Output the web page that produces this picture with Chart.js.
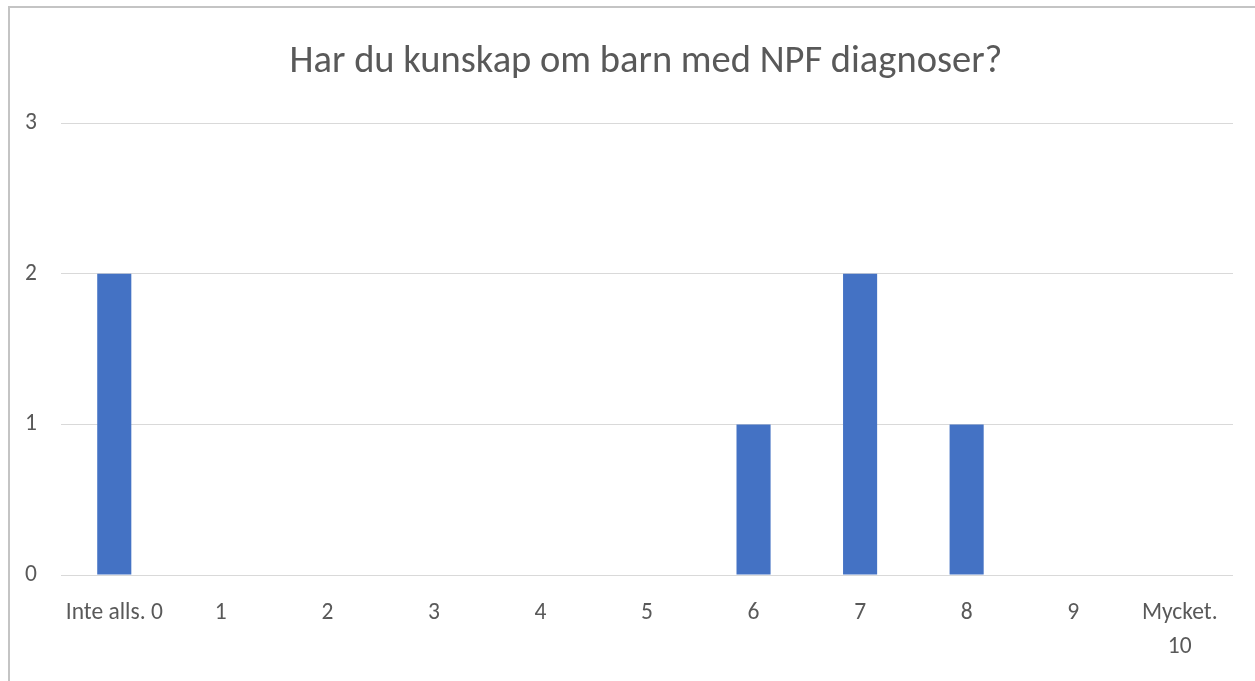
<!DOCTYPE html>
<html>
<head>
<meta charset="utf-8">
<script src="https://cdn.jsdelivr.net/npm/chart.js@4.4.1/dist/chart.umd.min.js"></script>
<style>
  html, body { margin: 0; padding: 0; background: #fff; overflow: hidden; }
  #frame { position: absolute; left: 8px; top: 6px; width: 1300px; height: 720px; border: 2px solid #c4c4c4; box-sizing: border-box; }
  #wrap { position: absolute; left: 0; top: 0; width: 1255px; height: 681px; }
</style>
</head>
<body>
<div id="frame"></div>
<div id="wrap"><canvas id="npfChart"></canvas></div>
<script>
var labels = ['Inte alls. 0', '1', '2', '3', '4', '5', '6', '7', '8', '9', ['Mycket.', '10']];
var counts = [2, 0, 0, 0, 0, 0, 1, 2, 1, 0, 0];
var yTicks = [0, 1, 2, 3];

var fontFam = 'Carlito, Calibri, "Liberation Sans Narrow", "Open Sans", sans-serif';
var textColor = '#595959';

// the original title sits a bit right of the canvas centre
var shiftTitle = {
  id: 'shiftTitle',
  afterLayout: function(chart) {
    if (chart.titleBlock) { chart.titleBlock.left += 59; }
  }
};

var ctx = document.getElementById('npfChart');
var npfChart = new Chart(ctx, {
  type: 'bar',
  data: {
    labels: labels,
    datasets: [{
      label: 'Antal',
      data: counts,
      backgroundColor: '#4472C4',
      borderWidth: 0,
      categoryPercentage: 1,
      barPercentage: 0.32
    }]
  },
  options: {
    responsive: true,
    maintainAspectRatio: false,
    animation: false,
    layout: { padding: { left: 0, right: 22, top: 0, bottom: 0 } },
    plugins: {
      legend: { display: false },
      tooltip: { enabled: false },
      title: {
        display: true,
        text: 'Har du kunskap om barn med NPF diagnoser?',
        color: textColor,
        font: { family: fontFam, size: 38.5, weight: 'normal' },
        padding: { top: 39, bottom: 38 }
      }
    },
    scales: {
      x: {
        grid: { display: false },
        border: { display: false },
        ticks: {
          color: textColor,
          font: { family: fontFam, size: 23.5, lineHeight: 1.45 },
          padding: 13,
          maxRotation: 0,
          autoSkip: false
        },
        afterFit: function(scale) { scale.height = 106; }
      },
      y: {
        min: 0,
        max: 3,
        afterBuildTicks: function(scale) {
          scale.ticks = yTicks.map(function(v) { return { value: v }; });
        },
        grid: { color: '#d9d9d9', lineWidth: 1, drawTicks: false },
        border: { display: false },
        ticks: {
          color: textColor,
          font: { family: fontFam, size: 23.5 },
          padding: 24
        },
        afterFit: function(scale) { scale.width = 61; }
      }
    }
  },
  plugins: [shiftTitle]
});
</script>
</body>
</html>
